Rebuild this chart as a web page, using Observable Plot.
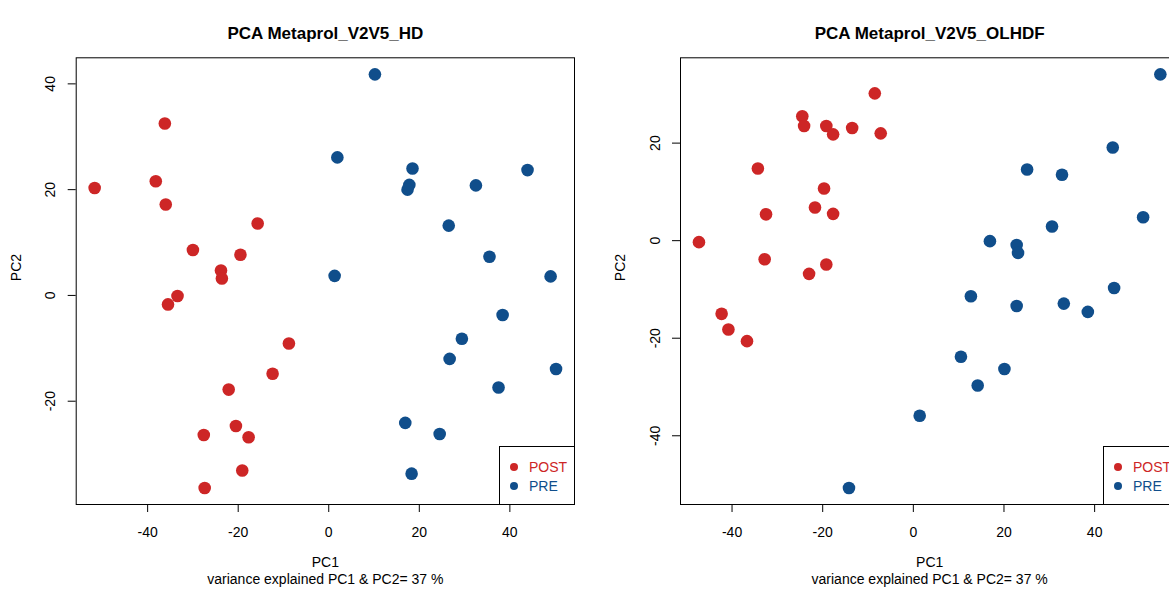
<!DOCTYPE html>
<html>
<head>
<meta charset="utf-8">
<script src="https://cdn.jsdelivr.net/npm/d3@7"></script>
<script src="https://cdn.jsdelivr.net/npm/@observablehq/plot@0.6"></script>
<style>
  html, body { margin: 0; padding: 0; background: #fff; }
  body { position: relative; width: 1169px; height: 591px; overflow: hidden; font-family: "Liberation Sans", Arial, sans-serif; }
  .panel { position: absolute; top: 0; }
  .legend { position: absolute; width: 75px; height: 58px; background: transparent; border-left: 1px solid #000; border-top: 1px solid #000; font-size: 14px; }
  .legend .sw { position: absolute; width: 8px; height: 8px; border-radius: 50%; }
  .legend .lab { position: absolute; left: 29px; white-space: nowrap; line-height: 16px; }
</style>
</head>
<body>
<div id="left" class="panel" style="left:0px"></div>
<div id="right" class="panel" style="left:585px"></div>
<div id="legLeft" class="legend" style="left:499px; top:446px"></div>
<div id="legRight" class="legend" style="left:1103px; top:446px; width:90px"></div>
<script>
// ---- Data ----
const groups = ["POST", "PRE"];
const groupColors = ["#CD2626", "#104E8B"];

const titles = ["PCA Metaprol_V2V5_HD", "PCA Metaprol_V2V5_OLHDF"];
const xLabel = "PC1";
const yLabel = "PC2";
const captionText = "variance explained PC1 & PC2= 37 %";

// Panel 1: HD
const hdPostX = [-36.2, -51.7, -38.2, -36.0, -15.7, -30.0, -19.5, -23.8, -23.6, -33.4, -35.5, -8.8, -12.4, -22.1, -20.5, -27.6, -17.7, -19.1, -27.4];
const hdPostY = [32.5, 20.3, 21.6, 17.2, 13.6, 8.6, 7.7, 4.7, 3.2, -0.1, -1.7, -9.1, -14.8, -17.8, -24.7, -26.4, -26.8, -33.1, -36.4];
const hdPreX = [10.2, 1.9, 18.5, 17.8, 17.4, 32.5, 43.9, 26.5, 35.5, 1.3, 49.0, 38.4, 29.4, 26.7, 50.2, 37.5, 16.9, 24.5, 18.3];
const hdPreY = [41.8, 26.1, 24.0, 20.9, 20.0, 20.8, 23.7, 13.2, 7.3, 3.7, 3.6, -3.7, -8.2, -12.0, -13.9, -17.4, -24.1, -26.2, -33.7];
const hdXTicks = [-40, -20, 0, 20, 40];
const hdYTicks = [-20, 0, 20, 40];

// Panel 2: OLHDF
const olPostX = [-8.5, -24.5, -24.1, -19.2, -17.7, -13.5, -7.2, -34.3, -19.7, -21.7, -17.7, -32.5, -47.3, -32.8, -19.2, -23.0, -42.3, -40.8, -36.7];
const olPostY = [30.2, 25.5, 23.5, 23.5, 21.8, 23.1, 22.0, 14.8, 10.7, 6.8, 5.5, 5.4, -0.3, -3.8, -4.9, -6.8, -15.0, -18.2, -20.6];
const olPreX = [54.5, 44.0, 25.1, 32.8, 50.7, 30.6, 16.9, 22.8, 23.1, 44.3, 12.7, 22.8, 33.2, 38.5, 10.5, 20.1, 14.2, 1.4, -14.2];
const olPreY = [34.1, 19.1, 14.6, 13.5, 4.8, 2.9, -0.1, -0.9, -2.5, -9.7, -11.4, -13.4, -12.9, -14.6, -23.8, -26.3, -29.7, -35.9, -50.7];
const olXTicks = [-40, -20, 0, 20, 40];
const olYTicks = [-40, -20, 0, 20];

// ---- Drawing ----
const FONT = '"Liberation Sans", Arial, Helvetica, sans-serif';
const FRAME_W = 498.3;

function padRange([a, b]) { const r = b - a; return [a - 0.04 * r, b + 0.04 * r]; }

function panel({title, postX, postY, preX, preY, xTicks, yTicks, marginLeft, width}) {
  const rows = [
    ...postX.map((x, i) => ({pc1: x, pc2: postY[i], group: groups[0]})),
    ...preX.map((x, i) => ({pc1: x, pc2: preY[i], group: groups[1]}))
  ];
  const xd = padRange(d3.extent(rows, d => d.pc1));
  const yd = padRange(d3.extent(rows, d => d.pc2));
  return Plot.plot({
    width, height: 591,
    marginLeft, marginRight: width - marginLeft - FRAME_W,
    marginTop: 57.3, marginBottom: 87,
    style: {fontFamily: FONT, fontSize: "14px", color: "#000", background: "transparent", maxWidth: "none", overflow: "visible"},
    x: {domain: xd, ticks: xTicks, tickSize: 8, tickPadding: 14.7, tickFormat: d => String(d), label: null},
    y: {domain: yd, ticks: yTicks, tickSize: 8, tickPadding: 12.7, tickRotate: -90, tickFormat: d => String(d), label: null},
    color: {domain: groups, range: groupColors},
    marks: [
      Plot.dot(rows, {x: "pc1", y: "pc2", fill: "group", r: 6.3, stroke: "none"}),
      Plot.frame({stroke: "#000", strokeWidth: 1}),
      Plot.text([title], {frameAnchor: "top", dy: -31, fontWeight: "bold", fontSize: 17}),
      Plot.text([xLabel], {frameAnchor: "bottom", dy: 62, fontSize: 14}),
      Plot.text([captionText], {frameAnchor: "bottom", dy: 79.5, fontSize: 14}),
      Plot.text([yLabel], {frameAnchor: "left", dx: -60, rotate: -90, fontSize: 14})
    ]
  });
}

document.getElementById("left").append(panel({
  title: titles[0], postX: hdPostX, postY: hdPostY, preX: hdPreX, preY: hdPreY,
  xTicks: hdXTicks, yTicks: hdYTicks, marginLeft: 75.7, width: 585
}));
document.getElementById("right").append(panel({
  title: titles[1], postX: olPostX, postY: olPostY, preX: olPreX, preY: olPreY,
  xTicks: olXTicks, yTicks: olYTicks, marginLeft: 95, width: 600
}));

function legend(el) {
  groups.forEach((g, i) => {
    const cy = 19.7 + i * 19;
    const sw = document.createElement("div");
    sw.className = "sw";
    sw.style.left = (14.3 - 4) + "px";
    sw.style.top = (cy - 4) + "px";
    sw.style.background = groupColors[i];
    const lab = document.createElement("div");
    lab.className = "lab";
    lab.style.top = (cy - 8) + "px";
    lab.style.color = groupColors[i];
    lab.textContent = g;
    el.append(sw, lab);
  });
}
legend(document.getElementById("legLeft"));
legend(document.getElementById("legRight"));
</script>
</body>
</html>
